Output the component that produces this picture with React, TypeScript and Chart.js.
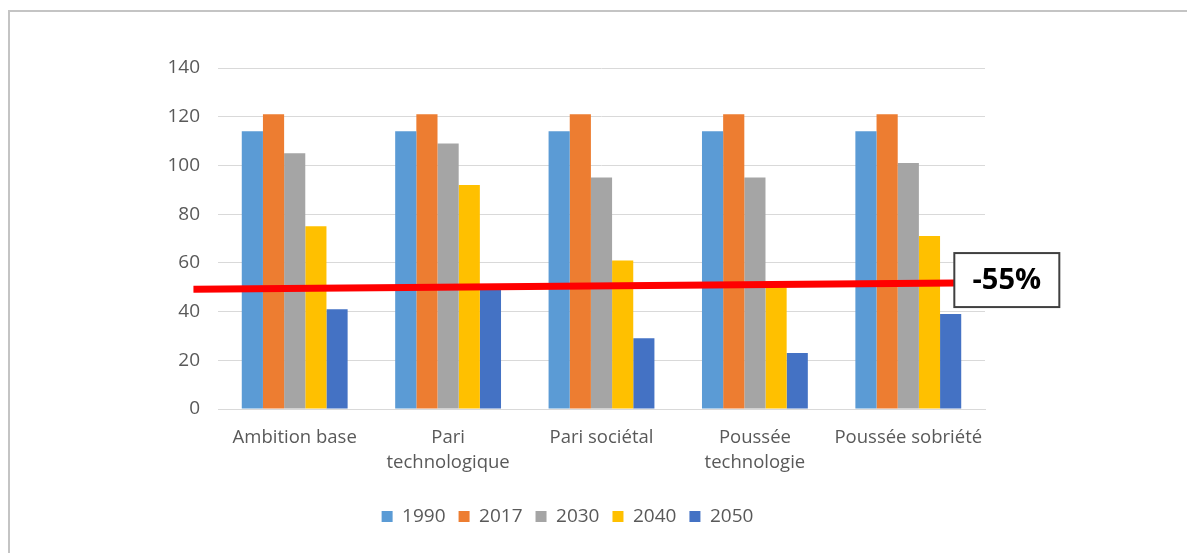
import React, { useEffect, useRef } from "react";
import { Chart, registerables } from "chart.js";

Chart.register(...registerables);

const categories: (string | string[])[] = [
  "Ambition base",
  ["Pari", "technologique"],
  "Pari sociétal",
  ["Poussée", "technologie"],
  "Poussée sobriété",
];
const seriesLabels = ["1990", "2017", "2030", "2040", "2050"];
const values1990 = [114, 114, 114, 114, 114];
const values2017 = [121, 121, 121, 121, 121];
const values2030 = [105, 109, 95, 95, 101];
const values2040 = [75, 92, 61, 50, 71];
const values2050 = [41, 49, 29, 23, 39];
const seriesColors = ["#5B9BD5", "#ED7D31", "#A5A5A5", "#FFC000", "#4472C4"];
const yTicks = [0, 20, 40, 60, 80, 100, 120, 140];
// target line: start/end in category-index units and value units
const targetLineX = [-0.66, 4.3];
const targetLineY = [49.2, 51.7];
const targetLabel = "-55%";

const FONT = "'Open Sans', 'Liberation Sans', sans-serif";

const targetPlugin = {
  id: "targetLine",
  afterDatasetsDraw(chart: any) {
    const { ctx, scales } = chart;
    const x0 = scales.x.getPixelForValue(targetLineX[0]);
    const x1 = scales.x.getPixelForValue(targetLineX[1]);
    const y0 = scales.y.getPixelForValue(targetLineY[0]);
    const y1 = scales.y.getPixelForValue(targetLineY[1]);
    ctx.save();
    ctx.strokeStyle = "#FF0000";
    ctx.lineWidth = 7;
    ctx.beginPath();
    ctx.moveTo(x0, y0);
    ctx.lineTo(x1, y1);
    ctx.stroke();
    // label box
    const bw = 105;
    const bh = 54;
    const bx = x1;
    const by = y1 - bh / 2 - 3;
    ctx.fillStyle = "#ffffff";
    ctx.fillRect(bx, by, bw, bh);
    ctx.strokeStyle = "#404040";
    ctx.lineWidth = 2;
    ctx.strokeRect(bx, by, bw, bh);
    ctx.fillStyle = "#000000";
    ctx.font = `bold 29px ${FONT}`;
    ctx.textAlign = "center";
    ctx.textBaseline = "middle";
    ctx.fillText(targetLabel, bx + bw / 2, by + bh / 2 + 1);
    ctx.restore();
  },
};

export default function App() {
  const canvasRef = useRef<HTMLCanvasElement>(null);

  useEffect(() => {
    if (!canvasRef.current) return;
    const seriesValues = [values1990, values2017, values2030, values2040, values2050];
    const chart = new Chart(canvasRef.current, {
      type: "bar",
      data: {
        labels: categories,
        datasets: seriesLabels.map((label, i) => ({
          label,
          data: seriesValues[i],
          backgroundColor: seriesColors[i],
          borderWidth: 0,
          categoryPercentage: 0.69,
          barPercentage: 1,
        })),
      },
      options: {
        responsive: false,
        animation: false,
        layout: { padding: { left: 150, right: 202, top: 68, bottom: 17 } },
        plugins: {
          legend: {
            position: "bottom",
            labels: {
              boxWidth: 11,
              boxHeight: 11,
              padding: 13,
              color: "#595959",
              font: { family: FONT, size: 19 },
            },
          },
          tooltip: { enabled: false },
        },
        scales: {
          x: {
            grid: { display: false, drawTicks: false },
            border: { display: true, color: "#d9d9d9", width: 1 },
            ticks: {
              color: "#595959",
              font: { family: FONT, size: 18.5, lineHeight: 1.35 },
              padding: 16,
              maxRotation: 0,
              autoSkip: false,
            },
            afterFit(scale: any) {
              scale.height = 85;
            },
          },
          y: {
            min: 0,
            max: 140,
            afterBuildTicks(scale: any) {
              scale.ticks = yTicks.map((v) => ({ value: v }));
            },
            grid: { color: "#d9d9d9", lineWidth: 1, drawTicks: false },
            border: { display: false },
            ticks: {
              color: "#595959",
              font: { family: FONT, size: 19 },
              padding: 18,
            },
            afterFit(scale: any) {
              scale.width = 68;
            },
          },
        },
      },
      plugins: [targetPlugin],
    });
    return () => chart.destroy();
  }, []);

  return (
    <div style={{ position: "absolute", left: 0, top: 0, width: 1187, height: 553, background: "#fff", overflow: "hidden" }}>
      <div
        style={{
          position: "absolute",
          left: 8,
          top: 10,
          width: 1200,
          height: 600,
          borderTop: "2px solid #c4c4c4",
          borderLeft: "2px solid #c4c4c4",
        }}
      />
      <canvas ref={canvasRef} width={1187} height={553} style={{ position: "absolute", left: 0, top: 0 }} />
    </div>
  );
}
